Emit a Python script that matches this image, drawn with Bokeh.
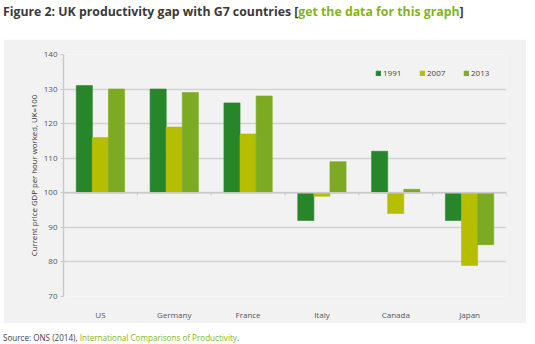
from bokeh.plotting import figure
from bokeh.models import (Range1d, FixedTicker, Span, Legend, LegendItem, Div,
                          ColumnDataSource)
from bokeh.layouts import column
from bokeh.embed import file_html
from bokeh.resources import INLINE

countries = ["US", "Germany", "France", "Italy", "Canada", "Japan"]
years = ["1991", "2007", "2013"]
v1991 = [131, 130, 126, 92, 112, 92]
v2007 = [116, 119, 117, 99, 94, 79]
v2013 = [130, 129, 128, 109, 101, 85]
colors = ["#27852a", "#b5be00", "#7caa22"]
y_ticks = [70, 80, 90, 100, 110, 120, 130, 140]

FONT = "Open Sans"
PANEL = "#f2f2f2"

p = figure(width=523, height=284, output_backend="svg", toolbar_location=None,
           x_range=Range1d(0, len(countries)), y_range=Range1d(70, 140),
           background_fill_color=PANEL, border_fill_color=PANEL,
           min_border_left=60, min_border_right=20, min_border_top=15,
           min_border_bottom=27, margin=(0, 0, 0, 3))
p.outline_line_color = None

centers = [i + 0.5 for i in range(len(countries))]
bw = 0.218
renderers = []
for k, (vals, col) in enumerate(zip([v1991, v2007, v2013], colors)):
    xs = [c + (k - 1) * bw for c in centers]
    src = ColumnDataSource(dict(x=xs, top=vals, bottom=[100] * len(vals)))
    r = p.vbar(x="x", top="top", bottom="bottom", width=bw, source=src,
               fill_color=col, line_color=col, line_alpha=0.6, line_width=1)
    renderers.append(r)

# baseline at 100 with boundary ticks
p.add_layout(Span(location=100, dimension="width", line_color="#c9c9c9", line_width=1.5))
bounds = list(range(1, len(countries) + 1))
p.segment(x0=bounds, x1=bounds, y0=[100] * len(bounds), y1=[99.1] * len(bounds),
          line_color="#c9c9c9", line_width=1)

# grid
p.xgrid.grid_line_color = None
p.ygrid.ticker = FixedTicker(ticks=y_ticks)
p.ygrid.grid_line_color = "#d3d3d3"
p.ygrid.grid_line_width = 1.6

# y axis
p.yaxis.ticker = FixedTicker(ticks=y_ticks)
p.yaxis.axis_line_color = "#c9c9c9"
p.yaxis.axis_line_width = 1.5
p.yaxis.major_tick_out = 3
p.yaxis.major_tick_in = 0
p.yaxis.major_tick_line_color = "#c9c9c9"
p.yaxis.minor_tick_line_color = None
p.yaxis.major_label_text_font = FONT
p.yaxis.major_label_text_font_size = "8px"
p.yaxis.major_label_text_color = "#555555"
p.yaxis.major_label_standoff = 3
p.yaxis.axis_label = "Current price GDP per hour worked, UK=100"
p.yaxis.axis_label_text_font = FONT
p.yaxis.axis_label_text_font_size = "7.8px"
p.yaxis.axis_label_text_font_style = "normal"
p.yaxis.axis_label_text_color = "#333333"
p.yaxis.axis_label_standoff = 2

# x axis (labels only)
p.xaxis.ticker = FixedTicker(ticks=centers)
p.xaxis.major_label_overrides = {c: n for c, n in zip(centers, countries)}
p.xaxis.axis_line_color = None
p.xaxis.major_tick_line_color = None
p.xaxis.minor_tick_line_color = None
p.xaxis.major_label_text_font = FONT
p.xaxis.major_label_text_font_size = "8px"
p.xaxis.major_label_text_color = "#555555"
p.xaxis.major_label_standoff = 6

legend = Legend(items=[LegendItem(label=y, renderers=[r]) for y, r in zip(years, renderers)],
                orientation="horizontal", location=(312, 218),
                background_fill_alpha=0, border_line_color=None,
                glyph_width=6, glyph_height=6, label_standoff=2, spacing=16,
                padding=0, margin=0, label_text_font=FONT, label_text_font_size="8px",
                label_text_color="#444444", label_height=10)
p.add_layout(legend, "center")

title = Div(text=('<span style="color:#3a3a3a">Figure 2: UK productivity gap with G7 countries [</span>'
                  '<span style="color:#84b41c">get the data for this graph</span>'
                  '<span style="color:#3a3a3a">]</span>'),
            width=535, height=39, margin=(0, 0, 0, 0),
            styles={"font-family": FONT, "font-weight": "bold", "font-size": "12.3px",
                    "line-height": "16px", "padding-left": "3px", "padding-top": "4px",
                    "white-space": "nowrap"})
source = Div(text=('<span style="color:#444">Source: ONS (2014), </span>'
                   '<span style="color:#84b41c">International Comparisons of Productivity</span>'
                   '<span style="color:#444">.</span>'),
             width=535, height=21, margin=(0, 0, 0, 0),
             styles={"font-family": FONT, "font-size": "8.1px", "line-height": "12px",
                     "padding-left": "3px", "padding-top": "9px", "white-space": "nowrap"})

layout = column(title, p, source, spacing=0, margin=(0, 0, 0, 0))
open("out.html", "w").write(file_html(layout, INLINE))
